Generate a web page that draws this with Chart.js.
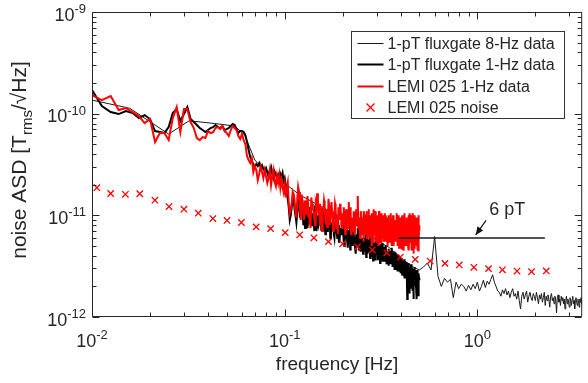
<!DOCTYPE html>
<html>
<head>
<meta charset="utf-8">
<script src="https://cdn.jsdelivr.net/npm/chart.js@4.4.1/dist/chart.umd.min.js"></script>
<style>
  html, body { margin: 0; padding: 0; background: #fff; }
  canvas { display: block; }
</style>
</head>
<body>
<canvas id="chart" width="588" height="383"></canvas>
<script>
// frequencies in mHz, amplitude spectral densities in pT/sqrt(Hz)
const freqOneHz = [
  10,11.25,12.5,13.75,15,16.25,17.5,18.75,
  20,21.25,22.5,23.75,25,26.25,27.5,28.75,
  30,31.25,32.5,33.75,35,36.25,37.5,38.75,
  40,41.25,42.5,43.75,45,46.25,47.5,48.75,
  50,51.25,52.5,53.75,55,56.25,57.5,58.75,
  60,61.25,62.5,63.75,65,66.25,67.5,68.75,
  70,71.25,72.5,73.75,75,76.25,77.5,78.75,
  80,81.25,82.5,83.75,85,86.25,87.5,88.75,
  90,91.25,92.5,93.75,95,96.25,97.5,98.75,
  100,101.25,102.5,103.75,105,106.25,107.5,108.75,
  110,111.25,112.5,113.75,115,116.25,117.5,118.75,
  120,121.25,122.5,123.75,125,126.25,127.5,128.75,
  130,131.25,132.5,133.75,135,136.25,137.5,138.75,
  140,141.25,142.5,143.75,145,146.25,147.5,148.75,
  150,151.25,152.5,153.75,155,156.25,157.5,158.75,
  160,161.25,162.5,163.75,165,166.25,167.5,168.75,
  170,171.25,172.5,173.75,175,176.25,177.5,178.75,
  180,181.25,182.5,183.75,185,186.25,187.5,188.75,
  190,191.25,192.5,193.75,195,196.25,197.5,198.75,
  200,201.25,202.5,203.75,205,206.25,207.5,208.75,
  210,211.25,212.5,213.75,215,216.25,217.5,218.75,
  220,221.25,222.5,223.75,225,226.25,227.5,228.75,
  230,231.25,232.5,233.75,235,236.25,237.5,238.75,
  240,241.25,242.5,243.75,245,246.25,247.5,248.75,
  250,251.25,252.5,253.75,255,256.25,257.5,258.75,
  260,261.25,262.5,263.75,265,266.25,267.5,268.75,
  270,271.25,272.5,273.75,275,276.25,277.5,278.75,
  280,281.25,282.5,283.75,285,286.25,287.5,288.75,
  290,291.25,292.5,293.75,295,296.25,297.5,298.75,
  300,301.25,302.5,303.75,305,306.25,307.5,308.75,
  310,311.25,312.5,313.75,315,316.25,317.5,318.75,
  320,321.25,322.5,323.75,325,326.25,327.5,328.75,
  330,331.25,332.5,333.75,335,336.25,337.5,338.75,
  340,341.25,342.5,343.75,345,346.25,347.5,348.75,
  350,351.25,352.5,353.75,355,356.25,357.5,358.75,
  360,361.25,362.5,363.75,365,366.25,367.5,368.75,
  370,371.25,372.5,373.75,375,376.25,377.5,378.75,
  380,381.25,382.5,383.75,385,386.25,387.5,388.75,
  390,391.25,392.5,393.75,395,396.25,397.5,398.75,
  400,401.25,402.5,403.75,405,406.25,407.5,408.75,
  410,411.25,412.5,413.75,415,416.25,417.5,418.75,
  420,421.25,422.5,423.75,425,426.25,427.5,428.75,
  430,431.25,432.5,433.75,435,436.25,437.5,438.75,
  440,441.25,442.5,443.75,445,446.25,447.5,448.75,
  450,451.25,452.5,453.75,455,456.25,457.5,458.75,
  460,461.25,462.5,463.75,465,466.25,467.5,468.75,
  470,471.25,472.5,473.75,475,476.25,477.5,478.75,
  480,481.25,482.5,483.75,485,486.25,487.5,488.75,
  490,491.25,492.5,493.75,495,496.25,497.5,498.75,
  500
];

const fluxgateOneHz = [
  170.7,118.8,103.7,99.1,106.1,101.4,90.5,96.9,88.5,67.4,
  65.9,64.5,73.8,101.4,111,84.6,99.1,116.1,88.5,82.7,
  77.3,72.2,69,65.9,69,72.2,73.8,77.3,73.8,72.2,
  75.5,69,70.5,72.2,75.5,79,77.3,70.5,64.5,67.4,
  67.4,65.9,61.6,52.6,43.9,37.4,35,31.2,29.9,31.9,
  30.5,32.7,29.9,31.2,28.5,27.3,29.2,26.7,23.8,27.9,
  29.9,25.5,23.3,26.7,24.9,23.3,24.9,22.2,25.5,23.8,
  26.1,21.7,23.3,
  20,17,14.5,12,9,10,12,14,15,11.5,10,8.5,11,13,14,9.5,10.5,12.5,13,8,
  9.5,7.5,12,10.5,7.5,9,9.5,12,11,8,8,10.5,9.5,7,12.5,11,7,9.5,10,8,
  8.5,10,11.5,7,8,9,7,11,9,6.5,10.5,8.5,7,10,8.5,7.5,9.5,6,6.5,8.5,
  7.5,9,8.5,6.5,6,7.5,8,10,7,6,9.5,8,5.5,5.5,7,7.5,6.5,8.5,8,6.5,
  7,5.5,5,7.5,6.5,8.5,7.5,6,5.5,4.8,6,7,7,8,4.6,5.5,6,6.5,7,5,
  5.5,7,6.5,5.5,5.5,4.6,4.2,6.5,6,5,5.2,7.5,6.5,4.5,4.8,6,5.8,5.5,4.4,4.8,
  5.2,6,5,4.2,4.4,5.5,6,4.8,4.5,6.5,5.5,3.9,4.6,5,4.2,5.8,5.6,4.4,4.8,5.2,
  4.7,3.8,4.2,5.5,5.2,4.6,3.9,6,5.3,3.6,4.1,4.9,3.7,5.4,4.8,4,3.6,5.2,5,4.3,
  4.1,5.6,4.8,3.7,3.8,4.5,4.3,5,5.1,3.4,3.6,4.8,4.6,4.2,3.9,5.3,4.7,3.5,3.6,4.4,
  3.9,4.9,4.5,3.6,3.5,4.2,4.6,5.1,3.8,3.3,4.1,4.4,3.4,3.9,4.3,4.7,3.7,3.2,4.4,4.1,
  3.6,4.5,4.1,3.4,3.3,3.9,4.2,4.8,3.7,3.1,3.4,4.2,4,3.6,3.2,4.4,4.3,2.9,3.5,3.8,
  3.5,4.3,3.9,3.2,2.9,3.7,3.4,2.8,3.8,4.1,3.2,3.5,3.6,3,2.8,3.9,3.7,3.3,3.3,2.7,
  3.2,3.8,3.5,3.1,2.8,2.6,3.3,3.6,2.6,3.2,3.4,2.9,3,3.7,2.7,2.4,3.5,3.3,2.9,3,
  2.9,2.7,2.4,3.5,3.2,1.5,2.1,3.2,3,2.8,2.6,3.4,3.3,2.5,1.7,3.1,2.7,2.2,3.1,2.9,
  2.5,3.3,3.1,2.6,2.2,1.9,2.7,3,1.8,2.4,3,2.8,2.3,1.5,2,2.7,2.8,3.1,2.5,2.3,
  2.8,2.6,2.3,2.1,1.9,2.9,2.6,1.5,2.9,2.5,2.1,2.8,2.4,2.2,2.7,1.6,1.7,2.6,2.4,2.3
];

const lemiOneHz = [
  152,136,149,108.5,113.5,103.7,94.7,80.8,88.5,52.6,
  64.5,64.5,55,90.5,116,65.9,111,111,82.7,72.2,
  57.6,55,58.9,57.6,67.4,64.5,65.9,72.2,73.8,70.5,
  75.5,67.4,64.5,60.2,69,75.5,72.2,69,60.2,56.3,
  63,55,50.2,38.3,35,32.7,36.6,26.7,30.5,27.9,
  22.2,25.5,30.5,26.7,23.3,27.9,24.3,20.8,23.3,27.9,
  19.9,24.3,27.9,21.3,19.4,24.3,20.8,24.9,18.6,22.2,
  19,16.9,20.3,
  15,18.5,21,13,10.5,11.5,13,17,16,14,11,9.5,14.5,19,17,12,9,16,13.5,10.5,
  9,14,12,10,15.5,12.5,10,8.5,7.5,15,13,11.5,11,9,8,13,12,16.5,14,10,
  13,8,9.5,12,7,10.5,11.5,14,12.5,9,8.5,11.5,10,7.5,14.5,12.5,8,10,11,13.5,
  10.5,8.5,7,11,9.5,13,12,7.5,8.5,10,6.5,12,10.5,9,13,11.5,9.5,8,7.5,10.5,
  8,12,10.5,8.5,6.5,9.5,11.5,7,9,11,7.5,13.5,10,8,12,10,6.5,7.5,8.5,9.5,
  7,10,11,7.5,6.5,9,8.5,11.5,10,8,8,15.5,7.5,9.5,8.5,7,6,10.5,11,8.5,
  9.5,6.5,7.5,9.5,5.5,11,10,7,8,8.5,6.5,10,11,6,7,9,8.5,11.5,10,7.5,
  6,9,10,6.5,7.5,10.5,5,8,9,5.5,11.5,9.5,6.5,7,8,11,9.5,6.5,5.5,8.5,
  7.5,10,9,6,5,8,11,9.5,7,5.5,8.5,7.5,5.5,10.5,9,6.5,6,8.5,10,7,
  8.5,5.5,6.5,9,10.5,7.5,5.5,10,8,6,9.5,8,6.5,5,7,9.5,10,7,5.5,8.5,
  7.5,6,5.5,9.5,10.5,7,8,5,6,8.5,7,10,9,6.5,5,7.5,8,5.5,6.5,9,
  5.5,7,8.5,10.5,7,5.5,9.5,8,5,6.5,7.5,9,10,4.8,6,7.5,8,9.5,4.8,6,
  9.5,8,7,5.5,4.6,10,8.5,6.5,6,7.5,9,4.5,5.5,9,10.5,6,7,8.5,5,7,
  7.5,5,6,9.5,9,6.5,5,8,7,4.8,8.5,10,4.5,6,10.5,7.5,7,5.5,6,9,
  8.5,7,6,4.5,10,8.5,5,6,7.5,10.5,9,5.5,4.2,7.5,6.5,4.8,8,9,10,6.5,
  5.5,8,7.5,5,6.5,9.5,9,6.5,7,4.5,5,8.5,9.5,6,6.5,10,4.4,5.5,8,7
];

const freqEightHz = [
  10,15.7,25,31.9,43.4,55,62,70,80,90,
  100,120,150,200,250,300,350,400,450,500,
  525,550,575,600,625,650,675,700,725,750,
  775,800,825,850,875,900,925,950,975,1000,
  1025,1050,1075,1100,1125,1150,1175,1200,1225,1250,
  1275,1300,1325,1350,1375,1400,1425,1450,1475,1500,
  1525,1550,1575,1600,1625,1650,1675,1700,1725,1750,
  1775,1800,1825,1850,1875,1900,1925,1950,1975,2000,
  2025,2050,2075,2100,2125,2150,2175,2200,2225,2250,
  2275,2300,2325,2350,2375,2400,2425,2450,2475,2500,
  2525,2550,2575,2600,2625,2650,2675,2700,2725,2750,
  2775,2800,2825,2850,2875,2900,2925,2950,2975,3000,
  3025,3050,3075,3100,3125,3150,3175,3200,3225,3250,
  3275,3300,3325,3350,3375,3400,3425,3450,3475,3500
];

const fluxgateEightHz = [
  136,113,63,85,80,75.6,61.6,35,26.6,26.6,
  20.7,15.8,12.6,9.4,7.5,5.7,4.8,3.8,3.2,2.9,
  3.1,3.4,2.9,6.2,2.5,2.0,2.4,2.2,2.35,1.55,
  2.2,1.9,2.1,2.0,1.8,2.05,1.85,2.1,1.9,2.2,
  1.8,2.0,2.3,1.95,2.25,2.1,2.35,2.6,2.2,2.0,
  1.8,1.75,1.6,1.85,1.7,1.9,1.65,1.8,1.55,1.75,
  1.9,1.6,1.7,1.5,1.8,1.45,1.2,1.6,1.75,1.5,
  1.65,1.8,1.4,1.6,1.75,1.55,1.45,1.7,1.6,1.45,
  1.75,1.55,1.35,1.65,1.5,1.7,1.4,1.55,1.75,1.3,
  1.6,1.45,1.65,1.5,1.25,1.6,1.7,1.45,1.55,1.35,
  1.6,1.5,1.1,1.55,1.65,1.4,1.5,1.3,1.6,1.45,
  1.55,1.35,1.5,1.2,1.45,1.6,1.35,1.5,1.4,1.25,
  1.55,1.45,1.3,1.5,1.6,1.35,1.45,1.2,1.5,1.55,
  1.4,1.3,1.5,1.45,1.25,1.5,1.4,1.55,1.35,1.45
];

const noiseFreq = [
  10.6,12.5,14.9,17.7,21.2,25.1,30,35.6,42.4,50.2,
  59.6,71.1,84.5,100.6,119.7,141.8,168.7,199.9,238.7,285.1,
  338.5,398.6,475.9,568.5,679,805.2,959.4,1143,1349,1606,
  1911,2277
];
const lemiNoise = [
  18.7,16.4,16.1,16.3,14.1,12.2,11.5,10.5,9.3,8.9,
  8.5,7.7,7.4,6.76,6.43,6.01,5.51,5.25,4.9,4.58,
  4.28,3.89,3.69,3.55,3.37,3.25,3.08,2.99,2.91,2.83,
  2.79,2.84
];

// 6 pT level of the LEMI record
const levelFreq = [390, 2240];
const levelValue = [6, 6];

const xTickExp = [-2, -1, 0];
const yTickExp = [-12, -11, -10, -9];

const FONT = '"Liberation Sans", Arial, Helvetica, sans-serif';
const INK = '#262626';

function toPoints(f, v) {
  return f.map((fi, i) => ({ x: fi / 1000, y: v[i] * 1e-12 }));
}

function drawPower(ctx, exp, x, y, align) {
  ctx.font = '18px ' + FONT;
  const wb = ctx.measureText('10').width;
  ctx.font = '13px ' + FONT;
  const sup = String(exp);
  const ws = ctx.measureText(sup).width;
  const left = align === 'center' ? x - (wb + ws) / 2 : x - (wb + ws);
  ctx.textAlign = 'left';
  ctx.textBaseline = 'alphabetic';
  ctx.font = '18px ' + FONT;
  ctx.fillText('10', left, y);
  ctx.font = '13px ' + FONT;
  ctx.fillText(sup, left + wb, y - 7.5);
}

const axesFrame = {
  id: 'axesFrame',
  afterDatasetsDraw(chart) {
    const { ctx, chartArea: a, scales: { x, y } } = chart;
    ctx.save();
    ctx.strokeStyle = INK;
    ctx.fillStyle = INK;
    ctx.lineWidth = 1;

    const L = a.left + 0.5, R = a.right - 0.5, T = a.top + 0.5, B = a.bottom - 0.5;
    ctx.beginPath();
    ctx.rect(L, T, R - L, B - T);
    ctx.stroke();

    // x ticks, inward on bottom and top
    ctx.beginPath();
    for (let e = -2; e <= 0; e++) {
      for (let m = 1; m <= 9; m++) {
        const v = m * Math.pow(10, e);
        if (v > x.max) continue;
        const px = Math.round(x.getPixelForValue(v)) + 0.5;
        const len = m === 1 ? 7 : 4;
        ctx.moveTo(px, B); ctx.lineTo(px, B - len);
        ctx.moveTo(px, T); ctx.lineTo(px, T + len);
      }
    }
    // y ticks, inward on left and right
    for (let e = -12; e <= -9; e++) {
      for (let m = 1; m <= 9; m++) {
        const v = m * Math.pow(10, e);
        if (v > y.max * 1.0001) continue;
        const py = Math.round(y.getPixelForValue(v)) + 0.5;
        const len = m === 1 ? 7 : 4;
        ctx.moveTo(L, py); ctx.lineTo(L + len, py);
        ctx.moveTo(R, py); ctx.lineTo(R - len, py);
      }
    }
    ctx.stroke();

    // tick labels
    xTickExp.forEach(e => drawPower(ctx, e, x.getPixelForValue(Math.pow(10, e)), a.bottom + 29.5, 'center'));
    yTickExp.forEach(e => drawPower(ctx, e, a.left - 6, y.getPixelForValue(Math.pow(10, e)) + 8.5, 'right'));

    // x title
    ctx.font = '19px ' + FONT;
    ctx.textAlign = 'center';
    ctx.textBaseline = 'alphabetic';
    ctx.fillText('frequency [Hz]', (a.left + a.right) / 2, a.bottom + 53);

    // y title with subscript
    const parts = [['noise ASD [T', 21, 0], ['rms', 15, 6], ['/\u221AHz]', 21, 0]];
    let total = 0;
    parts.forEach(p => { ctx.font = p[1] + 'px ' + FONT; total += ctx.measureText(p[0]).width; });
    ctx.translate(26, 160);
    ctx.rotate(-Math.PI / 2);
    ctx.textAlign = 'left';
    let cx = -total / 2;
    parts.forEach(p => {
      ctx.font = p[1] + 'px ' + FONT;
      ctx.fillText(p[0], cx, p[2]);
      cx += ctx.measureText(p[0]).width;
    });
    ctx.restore();
  }
};

const notes = {
  id: 'notes',
  afterDraw(chart) {
    const { ctx, chartArea: a, scales: { x, y } } = chart;
    ctx.save();

    // "6 pT" label and arrow pointing at the level line
    const lineY = y.getPixelForValue(levelValue[0] * 1e-12);
    const x0 = x.getPixelForValue(1.11), y0 = lineY - 17.5;
    const x1 = x.getPixelForValue(0.98), y1 = lineY - 3;
    ctx.strokeStyle = '#111';
    ctx.fillStyle = '#111';
    ctx.lineWidth = 1.2;
    ctx.beginPath();
    ctx.moveTo(x0, y0); ctx.lineTo(x1, y1);
    ctx.stroke();
    const ang = Math.atan2(y1 - y0, x1 - x0);
    ctx.beginPath();
    ctx.moveTo(x1, y1);
    ctx.lineTo(x1 - 8 * Math.cos(ang) + 3.5 * Math.sin(ang), y1 - 8 * Math.sin(ang) - 3.5 * Math.cos(ang));
    ctx.lineTo(x1 - 8 * Math.cos(ang) - 3.5 * Math.sin(ang), y1 - 8 * Math.sin(ang) + 3.5 * Math.cos(ang));
    ctx.closePath();
    ctx.fill();
    ctx.fillStyle = INK;
    ctx.font = '18px ' + FONT;
    ctx.textAlign = 'center';
    ctx.textBaseline = 'alphabetic';
    ctx.fillText('6 pT', x.getPixelForValue(1.43), lineY - 22.5);

    // legend box
    const bx = a.left + 259.5, by = a.top + 19.5, bw = 213, bh = 87;
    ctx.fillStyle = '#fff';
    ctx.fillRect(bx, by, bw, bh);
    ctx.strokeStyle = '#333';
    ctx.lineWidth = 1;
    ctx.strokeRect(bx, by, bw, bh);
    const rows = [12, 33, 55, 76];
    const entries = [0, 1, 2, 3].map(i => chart.data.datasets[i]);
    ctx.font = '16px ' + FONT;
    ctx.textAlign = 'left';
    ctx.textBaseline = 'middle';
    entries.forEach((ds, i) => {
      const ry = by + rows[i];
      ctx.strokeStyle = ds.borderColor;
      ctx.lineWidth = ds.borderWidth;
      ctx.beginPath();
      if (ds.showLine) {
        ctx.moveTo(bx + 6, ry); ctx.lineTo(bx + 32, ry);
      } else {
        const cx = bx + 19, r = 4;
        ctx.moveTo(cx - r, ry - r); ctx.lineTo(cx + r, ry + r);
        ctx.moveTo(cx - r, ry + r); ctx.lineTo(cx + r, ry - r);
      }
      ctx.stroke();
      ctx.fillStyle = INK;
      ctx.fillText(ds.label, bx + 36, ry + 1);
    });
    ctx.restore();
  }
};

new Chart(document.getElementById('chart'), {
  type: 'scatter',
  data: {
    datasets: [
      {
        label: '1-pT fluxgate 8-Hz data',
        data: toPoints(freqEightHz, fluxgateEightHz),
        showLine: true, borderColor: '#1a1a1a', borderWidth: 1,
        pointRadius: 0, order: 4
      },
      {
        label: '1-pT fluxgate 1-Hz data',
        data: toPoints(freqOneHz, fluxgateOneHz),
        showLine: true, borderColor: '#000', borderWidth: 2,
        pointRadius: 0, order: 3
      },
      {
        label: 'LEMI 025 1-Hz data',
        data: toPoints(freqOneHz, lemiOneHz),
        showLine: true, borderColor: '#ff0000', borderWidth: 2,
        pointRadius: 0, order: 2
      },
      {
        label: 'LEMI 025 noise',
        data: toPoints(noiseFreq, lemiNoise),
        showLine: false, borderColor: '#ff0000', backgroundColor: '#ff0000',
        borderWidth: 1.3, pointStyle: 'crossRot', pointRadius: 4.5, order: 0
      },
      {
        label: '6 pT',
        data: toPoints(levelFreq, levelValue),
        showLine: true, borderColor: '#1a1a1a', borderWidth: 1.5,
        pointRadius: 0, order: 1
      }
    ]
  },
  options: {
    responsive: false,
    animation: false,
    devicePixelRatio: 1,
    layout: { padding: { top: 12, right: 0, bottom: 0, left: 0 } },
    plugins: { legend: { display: false }, tooltip: { enabled: false } },
    scales: {
      x: {
        type: 'logarithmic', min: 0.01, max: 3.5,
        grid: { display: false }, border: { display: false },
        ticks: { display: false },
        afterFit(s) { s.height = 66; }
      },
      y: {
        type: 'logarithmic', min: 1e-12, max: 1e-9,
        grid: { display: false }, border: { display: false },
        ticks: { display: false },
        afterFit(s) { s.width = 92; }
      }
    }
  },
  plugins: [axesFrame, notes]
});
</script>
</body>
</html>
